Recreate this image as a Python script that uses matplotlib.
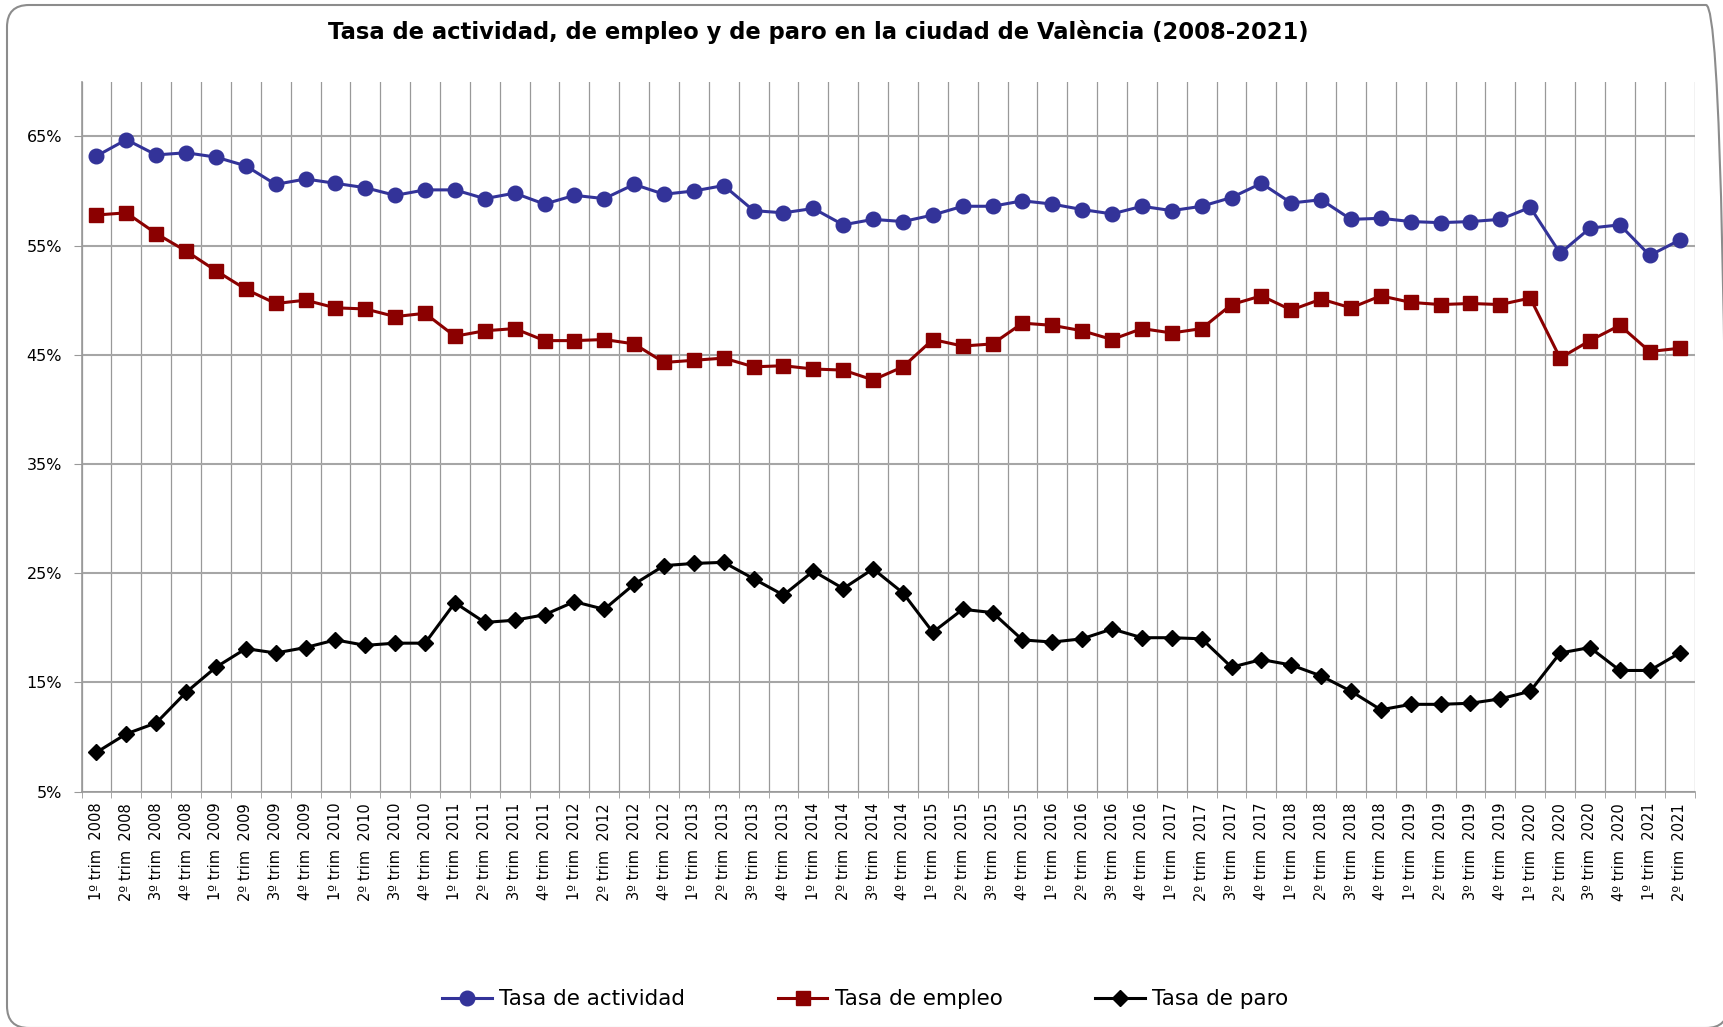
import numpy as np
import matplotlib
matplotlib.use("Agg")
import matplotlib.pyplot as plt
from matplotlib.patches import FancyBboxPatch
from matplotlib.transforms import IdentityTransform
from matplotlib.ticker import FixedLocator, PercentFormatter

plt.rcParams['font.family'] = ['DejaVu Sans']

#Quarters 2008 Q1 .. 2021 Q2
years = [2008, 2009, 2010, 2011, 2012, 2013, 2014, 2015, 2016, 2017, 2018, 2019, 2020, 2021]
quarters = ['1º', '2º', '3º', '4º']
labels = [f'{q} trim  {y}' for y in years for q in quarters][:54]

actividad = [63.2, 64.7, 63.3, 63.5, 63.1, 62.3, 60.6, 61.1, 60.7, 60.3, 59.6, 60.1,
             60.1, 59.3, 59.8, 58.8, 59.6, 59.3, 60.6, 59.7, 60.0, 60.5, 58.2, 58.0,
             58.4, 56.9, 57.4, 57.2, 57.8, 58.6, 58.6, 59.1, 58.8, 58.3, 57.9, 58.6,
             58.2, 58.6, 59.4, 60.7, 58.9, 59.2, 57.4, 57.5, 57.2, 57.1, 57.2, 57.4,
             58.5, 54.3, 56.6, 56.9, 54.1, 55.5]
empleo = [57.8, 58.0, 56.1, 54.5, 52.7, 51.0, 49.7, 50.0, 49.3, 49.2, 48.5, 48.8,
          46.7, 47.2, 47.4, 46.3, 46.3, 46.4, 46.0, 44.3, 44.5, 44.7, 43.9, 44.0,
          43.7, 43.6, 42.7, 43.9, 46.4, 45.8, 46.0, 47.9, 47.7, 47.2, 46.4, 47.4,
          47.0, 47.4, 49.6, 50.4, 49.1, 50.1, 49.3, 50.4, 49.8, 49.6, 49.7, 49.6,
          50.2, 44.7, 46.3, 47.7, 45.3, 45.6]
paro = [8.6, 10.3, 11.3, 14.1, 16.4, 18.1, 17.7, 18.2, 18.9, 18.4, 18.6, 18.6,
        22.3, 20.5, 20.7, 21.2, 22.4, 21.7, 24.0, 25.7, 25.9, 26.0, 24.5, 23.0,
        25.2, 23.6, 25.4, 23.2, 19.6, 21.7, 21.4, 18.9, 18.7, 19.0, 19.9, 19.1,
        19.1, 19.0, 16.4, 17.1, 16.6, 15.6, 14.2, 12.5, 13.0, 13.0, 13.1, 13.5,
        14.2, 17.7, 18.2, 16.1, 16.1, 17.7]

fig = plt.figure(figsize=(17.24, 10.27), dpi=100)
ax = fig.add_axes([0.0473, 0.2291, 0.9356, 0.6913])

x = np.arange(len(labels))
ax.plot(x, actividad, '-o', color='#333399', lw=2.2, ms=10.5, label='Tasa de actividad')
ax.plot(x, empleo, '-s', color='#8b0000', lw=2.2, ms=9.5, label='Tasa de empleo')
ax.plot(x, paro, '-D', color='black', lw=2.2, ms=8, label='Tasa de paro')

#Axes limits and ticks
ax.set_xlim(-0.5, len(labels) - 0.5)
ax.set_ylim(5, 70)
ax.set_yticks(np.arange(5, 70, 10))
ax.yaxis.set_major_formatter(PercentFormatter(decimals=0))
ax.set_xticks(x)
ax.set_xticklabels(labels, rotation=90, fontsize=10.5)
ax.xaxis.set_minor_locator(FixedLocator(np.arange(-0.5, len(labels), 1)))
ax.tick_params(axis='x', which='major', length=0, pad=8)
ax.tick_params(axis='x', which='minor', length=4, color='#999999')
ax.tick_params(axis='y', length=6, color='#999999', labelsize=11.5, pad=8)

#Grid lines
ax.grid(axis='x', which='minor', color='#999999', lw=0.9)
ax.grid(axis='y', which='major', color='#a6a6a6', lw=1.5)
ax.set_axisbelow(True)
for s in ['top', 'right']:
    ax.spines[s].set_visible(False)
for s in ['left', 'bottom']:
    ax.spines[s].set_color('#999999')
    ax.spines[s].set_linewidth(1.2)

#Title
fig.text(0.4745, 0.969, 'Tasa de actividad, de empleo y de paro en la ciudad de València (2008-2021)',
         ha='center', va='center', fontsize=16.3, fontweight='bold')

#Legend
fig.legend(loc='center', bbox_to_anchor=(0.502, 0.027), ncol=3, frameon=False,
           fontsize=15.5, handlelength=2.3, handletextpad=0.35, columnspacing=4.3)

#Rounded frame around the chart, right side runs off the picture
frame = FancyBboxPatch((7, -1), 1721, 1023, boxstyle='round,pad=0,rounding_size=22',
                       transform=IdentityTransform(), facecolor='none',
                       edgecolor='#8c8c8c', lw=1.5)
fig.add_artist(frame)

plt.savefig('out.png', dpi=100)
